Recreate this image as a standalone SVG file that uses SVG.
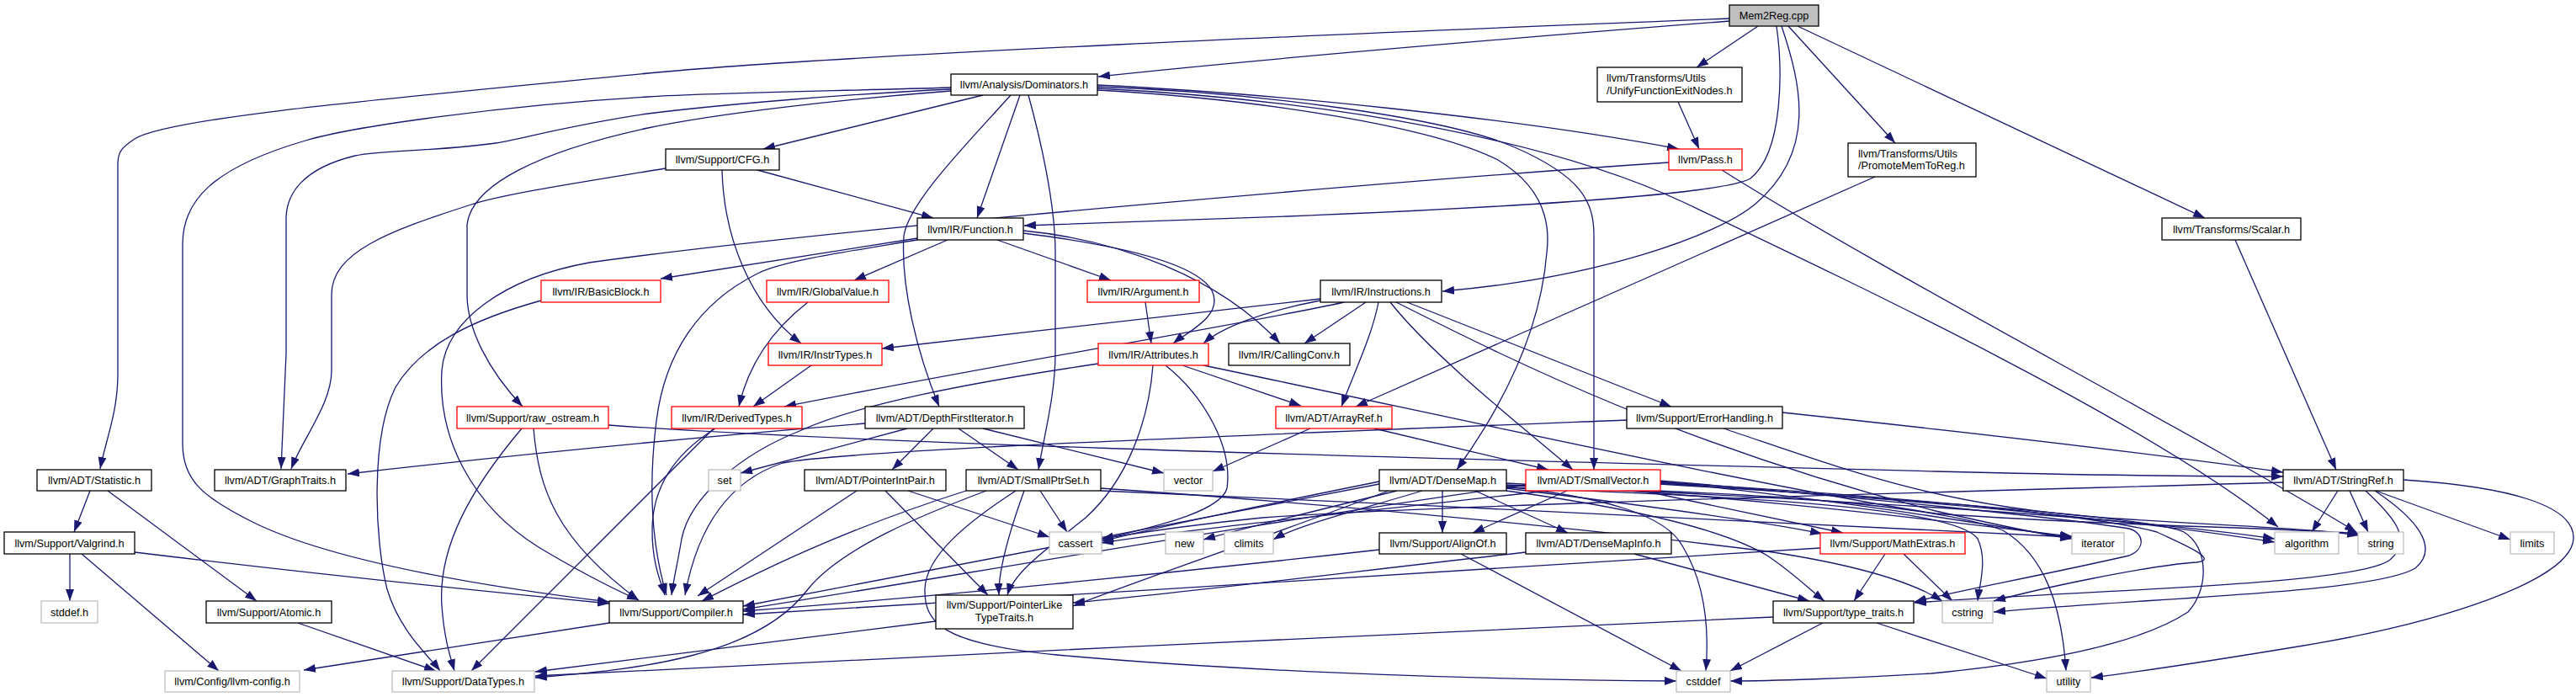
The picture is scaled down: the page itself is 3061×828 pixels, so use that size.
<svg xmlns="http://www.w3.org/2000/svg" width="3061" height="828" viewBox="0 0 3061 828">
<style>
rect{fill:#fff;stroke:#000;stroke-width:1.3}
.r rect{stroke:#f00}
.g rect{stroke:#bfbfbf}
.root rect{fill:#bfbfbf}
text{font-family:"Liberation Sans",Arial,Helvetica,sans-serif;font-size:12.7px;fill:#000;text-anchor:middle}
text.l{text-anchor:start}
#edges path{fill:none;stroke:#191970;stroke-width:1.3;marker-end:url(#a)}
</style>
<defs>
<marker id="a" markerUnits="userSpaceOnUse" markerWidth="14" markerHeight="10" refX="14" refY="5" orient="auto"><path d="M0,0 L14,5 L0,10 z" fill="#191970" stroke="none"/></marker>
</defs>
<rect x="0" y="0" width="3061" height="828" style="fill:#fff;stroke:none"/>
<g id="edges">
<path d="M2055,22 C1600,40 1000,65 770,87 C450,118 200,140 160,165 C145,175 140,180 140,195 L140,445 C140,490 125,525 119,557"/>
<path d="M2055,25 C1800,45 1500,70 1305,91"/>
<path d="M2089,31 L2016,80"/>
<path d="M2111,31 C2118,80 2120,180 2080,212 C2040,235 1700,250 1530,257 L1217,268"/>
<path d="M2117,31 C2140,100 2160,180 2085,243 C2040,280 1900,330 1714,346"/>
<path d="M2125,31 L2252,170"/>
<path d="M2136,31 L2620,259"/>
<path d="M1168,113 L907,177"/>
<path d="M1212,113 L1161,259"/>
<path d="M1201,113 C1150,170 1080,240 1074,280 C1070,340 1090,420 1116,483"/>
<path d="M1222,113 C1235,160 1254,240 1254,300 L1254,420 C1254,470 1240,520 1234,558"/>
<path d="M1130,104 C1000,108 850,110 770,115 C600,125 420,150 363,167 C250,200 217,240 217,290 L217,527 C217,570 240,590 300,620 C400,670 600,700 724,715"/>
<path d="M1130,106 C1000,112 850,125 770,135 C680,148 620,165 589,170 C520,180 450,178 422,185 C360,200 340,230 340,260 L340,420 L334,557"/>
<path d="M1130,108 C1000,118 850,135 770,152 C640,180 560,220 555,267 L555,350 C555,390 580,440 621,483"/>
<path d="M1304,101 C1500,110 1800,140 1995,177"/>
<path d="M1304,103 C1500,110 1720,140 1800,175 C1880,210 1894,240 1894,280 L1894,558"/>
<path d="M1304,107 C1500,118 1700,150 1780,190 C1830,220 1843,260 1838,300 C1830,400 1780,490 1731,558"/>
<path d="M1304,105 C1600,120 1850,170 2000,240 C2200,335 2550,500 2707,626"/>
<path d="M1994,121 L2019,177"/>
<path d="M107,583 L88,632"/>
<path d="M128,583 L305,714"/>
<path d="M83,658 L83,714"/>
<path d="M97,658 L260,797"/>
<path d="M160,656 C400,685 600,705 724,717"/>
<path d="M354,740 L518,797"/>
<path d="M724,740 L361,796"/>
<path d="M791,200 C700,215 600,230 560,243 C460,275 394,300 394,350 L394,440 C394,480 360,520 346,557"/>
<path d="M900,202 L1109,259"/>
<path d="M858,202 C860,280 890,360 952,408"/>
<path d="M1983,193 C1700,212 1000,270 700,312 C600,330 530,380 525,440 C520,520 560,600 640,650 C690,680 730,700 759,713"/>
<path d="M2046,202 C2250,330 2600,510 2800,632"/>
<path d="M2228,210 L1611,483"/>
<path d="M2656,285 L2776,558"/>
<path d="M1090,283 L785,331"/>
<path d="M1126,285 L1015,333"/>
<path d="M1185,285 L1320,333"/>
<path d="M1090,285 C1000,300 930,310 900,325 C830,360 790,420 780,500 C770,580 775,650 792,707"/>
<path d="M1216,274 C1330,285 1450,330 1521,408"/>
<path d="M1216,277 C1320,290 1420,310 1440,345 C1455,375 1410,395 1394,408"/>
<path d="M643,357 C560,380 500,410 470,460 C440,520 445,640 460,700 C475,750 510,780 523,797"/>
<path d="M960,359 C920,390 890,430 878,483"/>
<path d="M1361,359 L1368,408"/>
<path d="M964,434 L895,483"/>
<path d="M1569,355 L1048,414"/>
<path d="M1569,357 C1500,370 1450,390 1430,408"/>
<path d="M1597,359 C1480,385 1200,430 932,483"/>
<path d="M1623,359 L1550,408"/>
<path d="M1638,359 C1630,400 1610,440 1594,483"/>
<path d="M1652,359 C1700,420 1800,500 1869,558"/>
<path d="M1659,359 C1800,430 2000,530 2300,607 C2380,625 2430,636 2462,640"/>
<path d="M1672,359 L1986,483"/>
<path d="M1305,432 C1150,455 1020,480 950,512 C880,540 820,590 810,640 C805,670 800,690 798,707"/>
<path d="M1370,434 C1365,500 1340,570 1290,615 C1240,655 1205,680 1197,707"/>
<path d="M1385,434 C1430,470 1465,530 1458,580 C1450,610 1360,628 1309,641"/>
<path d="M1405,434 L1546,482"/>
<path d="M1430,434 C1700,490 2100,580 2300,610 C2500,625 2700,626 2804,634"/>
<path d="M848,509 L560,797"/>
<path d="M850,509 C800,540 775,580 775,630 C775,670 785,690 790,707"/>
<path d="M620,509 C560,580 520,650 525,720 C528,760 535,780 540,797"/>
<path d="M634,509 C640,580 660,640 759,713"/>
<path d="M723,505 C1000,525 1500,540 2300,560 C2500,565 2650,566 2713,566"/>
<path d="M1028,503 Q700,530 413,563"/>
<path d="M1078,509 L880,562"/>
<path d="M1109,509 L1060,558"/>
<path d="M1139,509 L1210,558"/>
<path d="M1168,509 L1383,562"/>
<path d="M1557,509 L1441,560"/>
<path d="M1633,509 L1840,558"/>
<path d="M1933,499 C1500,516 1000,535 930,550 C870,570 830,620 814,707"/>
<path d="M2118,490 C2400,520 2600,545 2713,561"/>
<path d="M2048,509 C2200,560 2300,600 2500,615 C2650,625 2750,628 2803,636"/>
<path d="M2811,583 C2840,610 2870,640 2840,665 C2800,695 2500,700 2275,716"/>
<path d="M2822,583 C2870,615 2900,650 2870,675 C2820,705 2550,710 2369,727"/>
<path d="M2778,583 L2747,632"/>
<path d="M2792,583 L2814,632"/>
<path d="M2823,583 L2983,641"/>
<path d="M2856,570 C2980,578 3060,600 3058,640 C3055,690 2900,740 2737,767 C2640,783 2550,797 2485,805"/>
<path d="M2713,573 C2300,585 1700,600 1500,615 C1400,625 1340,635 1309,640"/>
<path d="M1018,583 L829,708"/>
<path d="M1052,583 L1174,707"/>
<path d="M1079,583 L1247,638"/>
<path d="M1148,583 C1000,630 900,680 834,714"/>
<path d="M1172,583 C1100,610 1000,650 960,700 C900,780 760,795 636,805"/>
<path d="M1217,583 C1200,630 1186,680 1187,707"/>
<path d="M1236,583 L1268,632"/>
<path d="M1207,583 C1150,620 1100,660 1099,700 C1098,740 1120,765 1256,778 C1500,800 1800,808 1992,809"/>
<path d="M1308,580 C1600,600 1900,630 2100,655 C2200,670 2270,690 2308,714"/>
<path d="M1308,583 C1700,600 2200,625 2462,638"/>
<path d="M1714,583 L1714,633"/>
<path d="M1753,583 L1863,633"/>
<path d="M1639,575 C1400,620 1100,680 883,720"/>
<path d="M1650,583 C1500,640 1350,690 1275,720"/>
<path d="M1639,572 C1500,600 1380,625 1309,643"/>
<path d="M1660,583 C1550,610 1470,630 1430,641"/>
<path d="M1690,583 C1600,610 1540,625 1513,641"/>
<path d="M1790,580 C1950,600 2100,620 2165,634"/>
<path d="M1790,583 C1950,605 2050,630 2100,660 C2130,680 2150,700 2168,714"/>
<path d="M1790,576 C2100,590 2500,610 2703,640"/>
<path d="M1790,578 C1900,590 1980,610 2000,650 C2030,700 2030,760 2027,797"/>
<path d="M1790,579 C2050,590 2320,600 2350,640 C2362,665 2352,695 2350,714"/>
<path d="M1790,574 C2100,590 2350,625 2462,637"/>
<path d="M1790,577 C2100,585 2300,600 2380,630 C2430,660 2450,720 2455,797"/>
<path d="M1862,583 L1750,633"/>
<path d="M1813,576 C1500,620 1100,690 883,724"/>
<path d="M1840,583 C1600,610 1400,630 1309,645"/>
<path d="M1952,583 L2190,633"/>
<path d="M1972,571 C2200,590 2450,615 2530,628 C2548,633 2550,652 2530,660 C2420,685 2320,703 2275,715"/>
<path d="M1972,574 C2300,595 2550,620 2703,644"/>
<path d="M1972,575 C2300,595 2560,615 2595,632 C2625,650 2625,700 2600,727 C2550,760 2450,785 2295,800 C2200,806 2100,809 2056,809"/>
<path d="M1972,573 C2300,592 2500,615 2563,632 C2590,645 2640,665 2610,668 C2550,672 2420,700 2369,714"/>
<path d="M1972,572 C2200,595 2400,630 2462,639"/>
<path d="M1639,653 C1400,680 1100,710 883,726"/>
<path d="M1736,658 L1998,797"/>
<path d="M1813,656 C1600,680 1400,705 1275,716"/>
<path d="M1942,658 L2150,714"/>
<path d="M2163,651 C1800,675 1300,705 883,730"/>
<path d="M2240,658 L2203,714"/>
<path d="M2262,658 L2320,714"/>
<path d="M2107,733 C1800,745 1000,785 636,803"/>
<path d="M2166,740 L2056,797"/>
<path d="M2230,740 L2432,806"/>
<path d="M1112,738 Q850,770 636,798"/>
</g>
<g id="n_mem2reg" class="root"><rect x="2055" y="6" width="106" height="25"/><text x="2108" y="23">Mem2Reg.cpp</text></g>
<g id="n_dominators"><rect x="1130" y="88" width="174" height="25"/><text x="1217" y="105">llvm/Analysis/Dominators.h</text></g>
<g id="n_unify"><rect x="1898" y="80" width="172" height="41"/><text class="l" x="1909" y="97">llvm/Transforms/Utils</text><text class="l" x="1909" y="111.5">/UnifyFunctionExitNodes.h</text></g>
<g id="n_statistic"><rect x="44" y="558" width="136" height="25"/><text x="112" y="575">llvm/ADT/Statistic.h</text></g>
<g id="n_function"><rect x="1090" y="259" width="126" height="26"/><text x="1153" y="276.5">llvm/IR/Function.h</text></g>
<g id="n_instructions"><rect x="1569" y="333" width="144" height="26"/><text x="1641" y="350.5">llvm/IR/Instructions.h</text></g>
<g id="n_promote"><rect x="2196" y="170" width="152" height="40"/><text class="l" x="2208" y="186.5">llvm/Transforms/Utils</text><text class="l" x="2208" y="201">/PromoteMemToReg.h</text></g>
<g id="n_scalar"><rect x="2569" y="259" width="165" height="26"/><text x="2651.5" y="276.5">llvm/Transforms/Scalar.h</text></g>
<g id="n_cfg"><rect x="791" y="177" width="135" height="25"/><text x="858.5" y="194">llvm/Support/CFG.h</text></g>
<g id="n_pass" class="r"><rect x="1983" y="177" width="87" height="25"/><text x="2026.5" y="194">llvm/Pass.h</text></g>
<g id="n_graphtraits"><rect x="255" y="558" width="156" height="25"/><text x="333" y="575">llvm/ADT/GraphTraits.h</text></g>
<g id="n_rawostream" class="r"><rect x="543" y="483" width="180" height="26"/><text x="633" y="500.5">llvm/Support/raw_ostream.h</text></g>
<g id="n_compiler"><rect x="724" y="714" width="159" height="26"/><text x="803.5" y="731.5">llvm/Support/Compiler.h</text></g>
<g id="n_dfi"><rect x="1028" y="483" width="189" height="26"/><text x="1122.5" y="500.5">llvm/ADT/DepthFirstIterator.h</text></g>
<g id="n_smallptrset"><rect x="1148" y="558" width="160" height="25"/><text x="1228" y="575">llvm/ADT/SmallPtrSet.h</text></g>
<g id="n_smallvector" class="r"><rect x="1813" y="558" width="160" height="25"/><text x="1893" y="575">llvm/ADT/SmallVector.h</text></g>
<g id="n_densemap"><rect x="1639" y="558" width="151" height="25"/><text x="1714.5" y="575">llvm/ADT/DenseMap.h</text></g>
<g id="n_algorithm" class="g"><rect x="2703" y="632" width="76" height="26"/><text x="2741" y="649.5">algorithm</text></g>
<g id="n_basicblock" class="r"><rect x="643" y="333" width="142" height="26"/><text x="714" y="350.5">llvm/IR/BasicBlock.h</text></g>
<g id="n_globalvalue" class="r"><rect x="911" y="333" width="145" height="26"/><text x="983.5" y="350.5">llvm/IR/GlobalValue.h</text></g>
<g id="n_argument" class="r"><rect x="1292" y="333" width="133" height="26"/><text x="1358.5" y="350.5">llvm/IR/Argument.h</text></g>
<g id="n_callingconv"><rect x="1460" y="408" width="144" height="26"/><text x="1532" y="425.5">llvm/IR/CallingConv.h</text></g>
<g id="n_attributes" class="r"><rect x="1305" y="408" width="131" height="26"/><text x="1370.5" y="425.5">llvm/IR/Attributes.h</text></g>
<g id="n_instrtypes" class="r"><rect x="913" y="408" width="135" height="26"/><text x="980.5" y="425.5">llvm/IR/InstrTypes.h</text></g>
<g id="n_derivedtypes" class="r"><rect x="798" y="483" width="155" height="26"/><text x="875.5" y="500.5">llvm/IR/DerivedTypes.h</text></g>
<g id="n_arrayref" class="r"><rect x="1516" y="483" width="138" height="26"/><text x="1585" y="500.5">llvm/ADT/ArrayRef.h</text></g>
<g id="n_errorhandling"><rect x="1933" y="483" width="185" height="26"/><text x="2025.5" y="500.5">llvm/Support/ErrorHandling.h</text></g>
<g id="n_stringref"><rect x="2713" y="558" width="143" height="25"/><text x="2784.5" y="575">llvm/ADT/StringRef.h</text></g>
<g id="n_valgrind"><rect x="5" y="632" width="155" height="26"/><text x="82.5" y="649.5">llvm/Support/Valgrind.h</text></g>
<g id="n_atomic"><rect x="245" y="714" width="149" height="26"/><text x="319.5" y="731.5">llvm/Support/Atomic.h</text></g>
<g id="n_stddef" class="g"><rect x="49" y="714" width="67" height="26"/><text x="82.5" y="731.5">stddef.h</text></g>
<g id="n_llvmconfig" class="g"><rect x="196" y="797" width="160" height="25"/><text x="276" y="814">llvm/Config/llvm-config.h</text></g>
<g id="n_datatypes" class="g"><rect x="466" y="797" width="169" height="25"/><text x="550.5" y="814">llvm/Support/DataTypes.h</text></g>
<g id="n_set" class="g"><rect x="842" y="558" width="38" height="25"/><text x="861" y="575">set</text></g>
<g id="n_pointerintpair"><rect x="956" y="558" width="168" height="25"/><text x="1040" y="575">llvm/ADT/PointerIntPair.h</text></g>
<g id="n_vector" class="g"><rect x="1383" y="558" width="58" height="25"/><text x="1412" y="575">vector</text></g>
<g id="n_cassert" class="g"><rect x="1247" y="632" width="62" height="26"/><text x="1278" y="649.5">cassert</text></g>
<g id="n_new" class="g"><rect x="1385" y="632" width="45" height="26"/><text x="1407.5" y="649.5">new</text></g>
<g id="n_climits" class="g"><rect x="1455" y="632" width="58" height="26"/><text x="1484" y="649.5">climits</text></g>
<g id="n_pointerlike"><rect x="1112" y="707" width="163" height="40"/><text x="1193.5" y="723">llvm/Support/PointerLike</text><text x="1193.5" y="738">TypeTraits.h</text></g>
<g id="n_alignof"><rect x="1639" y="633" width="151" height="25"/><text x="1714.5" y="650">llvm/Support/AlignOf.h</text></g>
<g id="n_densemapinfo"><rect x="1813" y="633" width="173" height="25"/><text x="1899.5" y="650">llvm/ADT/DenseMapInfo.h</text></g>
<g id="n_mathextras" class="r"><rect x="2163" y="633" width="172" height="25"/><text x="2249" y="650">llvm/Support/MathExtras.h</text></g>
<g id="n_typetraits"><rect x="2107" y="714" width="167" height="26"/><text x="2190.5" y="731.5">llvm/Support/type_traits.h</text></g>
<g id="n_cstddef" class="g"><rect x="1992" y="797" width="64" height="25"/><text x="2024" y="814">cstddef</text></g>
<g id="n_iterator" class="g"><rect x="2462" y="633" width="62" height="25"/><text x="2493" y="650">iterator</text></g>
<g id="n_string" class="g"><rect x="2802" y="632" width="54" height="26"/><text x="2829" y="649.5">string</text></g>
<g id="n_limits" class="g"><rect x="2983" y="632" width="52" height="26"/><text x="3009" y="649.5">limits</text></g>
<g id="n_cstring" class="g"><rect x="2308" y="714" width="60" height="26"/><text x="2338" y="731.5">cstring</text></g>
<g id="n_utility" class="g"><rect x="2432" y="797" width="52" height="25"/><text x="2458" y="814">utility</text></g>
</svg>
